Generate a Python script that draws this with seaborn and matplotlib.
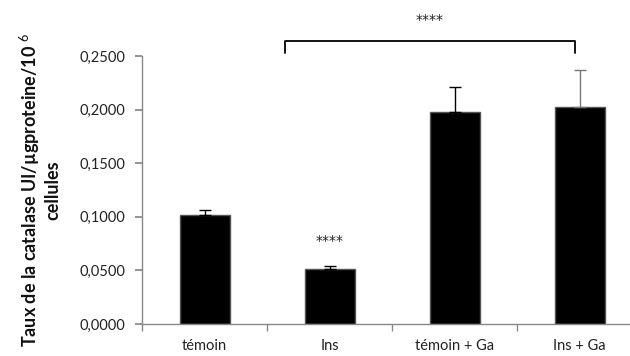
import matplotlib
matplotlib.use("Agg")
import matplotlib.pyplot as plt
import seaborn as sns
import pandas as pd
from matplotlib.ticker import FuncFormatter

categories = ["témoin", "Ins", "témoin + Ga", "Ins + Ga"]
values = [0.1017, 0.0513, 0.1980, 0.2027]
errors = [0.0045, 0.0024, 0.0234, 0.0339]
err_colors = ["black", "black", "black", "#777777"]
yticks = [0.0, 0.05, 0.10, 0.15, 0.20, 0.25]
ylabel = "Taux de la catalase UI/µgproteine/10$^{\\ 6}$\ncellules"
star_text = "****"

sns.set_theme(style="white")
plt.rcParams["font.family"] = ["Lato", "DejaVu Sans"]
plt.rcParams["mathtext.fontset"] = "custom"
plt.rcParams["mathtext.rm"] = "Lato"
plt.rcParams["mathtext.bf"] = "Lato:bold"

df = pd.DataFrame({"cat": categories, "val": values})

fig = plt.figure(figsize=(6.3, 3.56), dpi=100)
ax = fig.add_axes([142 / 630, 1 - 324 / 356, 500 / 630, (324 - 56) / 356])

sns.barplot(data=df, x="cat", y="val", color="black", width=0.4,
            edgecolor="#555555", linewidth=1.0, saturation=1, ax=ax, errorbar=None)

for i, (v, e, c) in enumerate(zip(values, errors, err_colors)):
    ax.errorbar(i, v, yerr=[[0], [e]], fmt="none", ecolor=c, elinewidth=1.0,
                capsize=4.5, capthick=1.0)

ax.set_xlim(-0.5, 3.5)
ax.set_ylim(0, 0.25)
ax.set_yticks(yticks)
ax.yaxis.set_major_formatter(FuncFormatter(lambda v, p: f"{v:.4f}".replace(".", ",")))
ax.set_xlabel("")
ax.set_ylabel(ylabel, fontsize=13, fontweight="bold", labelpad=13, linespacing=1.15,
              color="#111111")

for side in ["top", "right"]:
    ax.spines[side].set_visible(False)
for side in ["left", "bottom"]:
    ax.spines[side].set_color("#888888")
    ax.spines[side].set_linewidth(1.0)

ax.set_xticks([-0.5, 0.5, 1.5, 2.5, 3.5], minor=True)
ax.tick_params(axis="x", which="major", length=0, labelsize=10.5, pad=11, colors="#222222")
ax.tick_params(axis="x", which="minor", length=5, color="#888888", direction="out",
               bottom=True, labelbottom=False)
ax.tick_params(axis="y", length=5, color="#888888", direction="out", left=True,
               labelsize=10.5, colors="#222222", pad=7)

# significance annotations
ax.text(1, values[1] + 0.026, star_text, ha="center", va="center", fontsize=10,
        color="#222222", family="DejaVu Sans")
bx0, bx1, by, bd = 0.64, 2.96, 0.264, 0.011
ax.plot([bx0, bx0, bx1, bx1], [by - bd, by, by, by - bd], color="black", lw=1.3,
        clip_on=False)
ax.text((bx0 + bx1) / 2, 0.284, star_text, ha="center", va="center", fontsize=10,
        color="#222222", family="DejaVu Sans", clip_on=False)

fig.savefig("out.png", dpi=100, facecolor="white")
